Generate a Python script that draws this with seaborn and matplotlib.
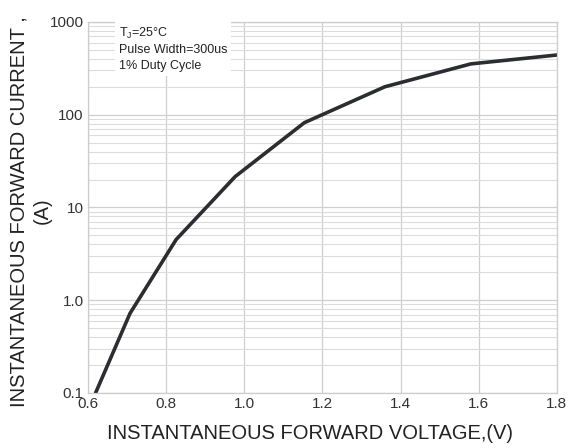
import numpy as np
import pandas as pd
import seaborn as sns
import matplotlib.pyplot as plt
from matplotlib.ticker import LogLocator, FixedLocator, FixedFormatter, NullFormatter

# forward voltage vs forward current
voltage = [0.62, 0.708, 0.826, 0.977, 1.154, 1.36, 1.58, 1.80]
current = [0.1, 0.72, 4.5, 21.5, 82, 200, 353, 440]

xticks = [0.6, 0.8, 1.0, 1.2, 1.4, 1.6, 1.8]
xlabels = ["0.6", "0.8", "1.0", "1.2", "1.4", "1.6", "1.8"]
yticks = [0.1, 1, 10, 100, 1000]
ylabels = ["0.1", "1.0", "10", "100", "1000"]

sns.set_style("white")
plt.rcParams['font.family'] = ['Liberation Sans', 'DejaVu Sans']

df = pd.DataFrame({"V": voltage, "I": current})

fig = plt.figure(figsize=(5.7, 4.48), dpi=100)
ax = fig.add_axes([0.154, 0.123, 0.823, 0.828])
sns.lineplot(data=df, x="V", y="I", ax=ax, color="#2b2d30", linewidth=2.6)
ax.set_yscale("log")
ax.set_xlim(0.6, 1.8)
ax.set_ylim(0.1, 1000)

ax.xaxis.set_major_locator(FixedLocator(xticks))
ax.xaxis.set_major_formatter(FixedFormatter(xlabels))
ax.yaxis.set_major_locator(FixedLocator(yticks))
ax.yaxis.set_major_formatter(FixedFormatter(ylabels))
ax.yaxis.set_minor_locator(LogLocator(base=10, subs=np.arange(2, 10)))
ax.yaxis.set_minor_formatter(NullFormatter())

ax.grid(True, which="major", axis="both", color="#cfcfcf", linewidth=0.9)
ax.grid(True, which="minor", axis="y", color="#dcdcdc", linewidth=0.8)
ax.tick_params(axis="both", which="both", length=0, labelsize=11, colors="#333333", pad=3)
for s in ax.spines.values():
    s.set_color("#cccccc")
    s.set_linewidth(0.9)

ax.set_xlabel("INSTANTANEOUS FORWARD VOLTAGE,(V)", fontsize=14.5, color="#222222")
ax.xaxis.set_label_coords(0.473, -0.085)
ax.set_ylabel("INSTANTANEOUS FORWARD CURRENT ,\n(A)", fontsize=14.5, color="#222222",
              linespacing=1.3)
ax.yaxis.set_label_coords(-0.076, 0.49)

ax.text(0.066, 0.99, "T$_\\mathregular{J}$=25°C\nPulse Width=300us\n1% Duty Cycle",
        transform=ax.transAxes, fontsize=9, va="top", ha="left", color="#222222",
        linespacing=1.4,
        bbox=dict(facecolor="white", edgecolor="none", pad=3))

fig.savefig("out.png", dpi=100)
